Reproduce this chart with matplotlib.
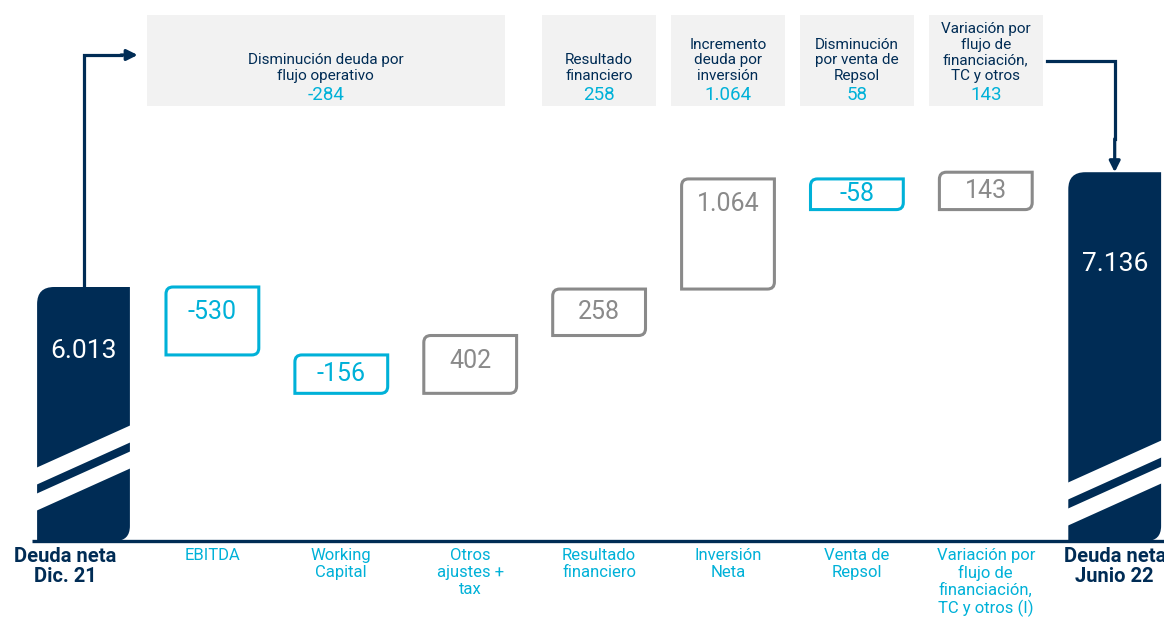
import numpy as np
import matplotlib
matplotlib.use("Agg")
import matplotlib.pyplot as plt
from matplotlib.path import Path
from matplotlib.patches import PathPatch, Polygon, Rectangle

plt.rcParams['font.family'] = ['Roboto', 'DejaVu Sans']

NAVY = '#002c55'
CYAN = '#00b1d8'
GREY = '#8a8a8a'
HEAD_BG = '#f2f2f2'

# --- data (millones de euros) ---
start_label = 'Deuda neta\nDic. 21'
end_label = 'Deuda neta\nJunio 22'
start_value = 6013
end_value = 7136
steps = ['EBITDA', 'Working\nCapital', 'Otros\najustes +\ntax', 'Resultado\nfinanciero',
         'Inversión\nNeta', 'Venta de\nRepsol', 'Variación por\nflujo de\nfinanciación,\nTC y otros (I)']
deltas = [-530, -156, 402, 258, 1064, -58, 143]

head_titles = ['Disminución deuda por\nflujo operativo', 'Resultado\nfinanciero',
               'Incremento\ndeuda por\ninversión', 'Disminución\npor venta de\nRepsol',
               'Variación por\nflujo de\nfinanciación,\nTC y otros']
head_values = [-284, 258, 1064, 58, 143]
head_span = [(1, 3), (4, 4), (5, 5), (6, 6), (7, 7)]


def fmt(v):
    return f"{v:,}".replace(',', '.')


# --- layout ---
W, H = 1164, 617
STEP_PX = 128.9      # px between categories
X0_PX = 83.5         # px of first bar centre
PX_PER_UNIT = 0.079  # vertical px per unit (after the axis break)
PAD = 330            # extra height so small steps still fit their label
BAR_W = 0.72

fig = plt.figure(figsize=(W / 100, H / 100), dpi=100)
ax = fig.add_axes([0, 0, 1, 1])
ax.axis('off')

base = start_value - (330 - 76) / PX_PER_UNIT   # bars are broken, draw from here
ylo = base - 76 / PX_PER_UNIT
ax.set_xlim(-X0_PX / STEP_PX, (W - X0_PX) / STEP_PX)
ax.set_ylim(ylo, ylo + H / PX_PER_UNIT)
ux = 1 / STEP_PX
uy = 1 / PX_PER_UNIT


def ypx(p):
    # pixel row from top -> data y
    return ylo + (H - p) * uy


def rounded_box(x0, y0, x1, y1, radii):
    corners = {
        'bl': ((x0, y0), lambda r: (x0 + r * ux, y0), lambda r: (x0, y0 + r * uy)),
        'tl': ((x0, y1), lambda r: (x0, y1 - r * uy), lambda r: (x0 + r * ux, y1)),
        'tr': ((x1, y1), lambda r: (x1 - r * ux, y1), lambda r: (x1, y1 - r * uy)),
        'br': ((x1, y0), lambda r: (x1, y0 + r * uy), lambda r: (x1 - r * ux, y0)),
    }
    verts, codes = [], []
    for name in ['bl', 'tl', 'tr', 'br']:
        c, before, after = corners[name]
        r = radii.get(name, 0)
        if r:
            verts += [before(r), c, after(r)]
            codes += [Path.LINETO, Path.CURVE3, Path.CURVE3]
        else:
            verts.append(c)
            codes.append(Path.LINETO)
    codes[0] = Path.MOVETO
    verts.append(verts[0])
    codes.append(Path.CLOSEPOLY)
    return Path(verts, codes)


# waterfall levels
levels = [start_value]
for d in deltas:
    levels.append(levels[-1] + np.sign(d) * (abs(d) + PAD))

# baseline
ax.plot([(32 - X0_PX) * ux, (W - X0_PX) * ux], [base, base], color=NAVY, lw=2.4,
        solid_capstyle='butt', zorder=1)

# end bars
for x, top, val, stripe_px in [(0, levels[0], start_value, 73), (len(deltas) + 1, levels[-1], end_value, 58)]:
    x0, x1 = x - BAR_W / 2, x + BAR_W / 2
    p = rounded_box(x0, base, x1, top, {'tl': 17, 'br': 15})
    ax.add_patch(PathPatch(p, facecolor=NAVY, edgecolor='none', zorder=2))
    rise = 43 * uy
    for off, th in [(stripe_px, 17), (stripe_px - 26, 17)]:
        yb = base + off * uy
        ax.add_patch(Polygon([(x0 - 0.01, yb), (x1 + 0.01, yb + rise),
                              (x1 + 0.01, yb + rise - th * uy), (x0 - 0.01, yb - th * uy)],
                             closed=True, facecolor='white', edgecolor='none', zorder=3))
    ax.text(x, top - 0.25 * (top - base), fmt(val), color='white', fontsize=19,
            ha='center', va='center', zorder=4)

# step boxes
for i, d in enumerate(deltas):
    x = i + 1
    y0, y1 = sorted([levels[i], levels[i + 1]])
    col = CYAN if d < 0 else GREY
    p = rounded_box(x - BAR_W / 2, y0, x + BAR_W / 2, y1, {'tl': 7, 'br': 7})
    ax.add_patch(PathPatch(p, facecolor='none', edgecolor=col, lw=2.2, zorder=2))
    ytxt = max((y0 + y1) / 2, y1 - 25 * uy)
    ax.text(x, ytxt, fmt(d), color=col, fontsize=18, ha='center', va='center', zorder=4)

# category labels
for i, lab in enumerate(steps):
    ax.text(i + 1, base - 7 * uy, lab, color=CYAN, fontsize=12, ha='center', va='top',
            linespacing=1.15)
ax.text(-18 * ux, base - 6 * uy, start_label, color=NAVY, fontsize=14.5, fontweight='bold',
        ha='center', va='top', linespacing=1.1)
ax.text(len(deltas) + 1, base - 6 * uy, end_label, color=NAVY, fontsize=14.5, fontweight='bold',
        ha='center', va='top', linespacing=1.1)

# header boxes
head_edges = []
for (a, b), title, val in zip(head_span, head_titles, head_values):
    c = (a + b) / 2 - 0.06 * (b - a)
    w = (b - a) * 0.95 + 0.88
    ax.add_patch(Rectangle((c - w / 2, ypx(106)), w, ypx(15) - ypx(106),
                           facecolor=HEAD_BG, edgecolor='none', zorder=1))
    head_edges.append((c - w / 2, c + w / 2))
    ax.text(c, ypx(83), title, color=NAVY, fontsize=11,
            ha='center', va='bottom', linespacing=1.15)
    ax.text(c, ypx(95), fmt(val), color=CYAN, fontsize=13.5, ha='center', va='center')

# connector arrows
arrow = dict(arrowstyle='-|>', color=NAVY, lw=2.3, mutation_scale=16, shrinkA=0, shrinkB=0)
y_a = ypx(55)
ax.plot([0, 0, head_edges[0][0] - 0.2], [levels[0], y_a, y_a], color=NAVY, lw=2.3,
        solid_joinstyle='miter', zorder=3)
ax.annotate('', xy=(head_edges[0][0] - 9 * ux, y_a), xytext=(head_edges[0][0] - 0.2, y_a),
            arrowprops=arrow)

x_end = len(deltas) + 1
y_b = ypx(61)
ax.plot([head_edges[-1][1] + 4 * ux, x_end, x_end], [y_b, y_b, levels[-1] + 0.3 * (y_b - levels[-1])],
        color=NAVY, lw=2.3, solid_joinstyle='miter', zorder=3)
ax.annotate('', xy=(x_end, levels[-1]), xytext=(x_end, levels[-1] + 0.3 * (y_b - levels[-1])),
            arrowprops=arrow)

fig.savefig('out.png', dpi=100)
